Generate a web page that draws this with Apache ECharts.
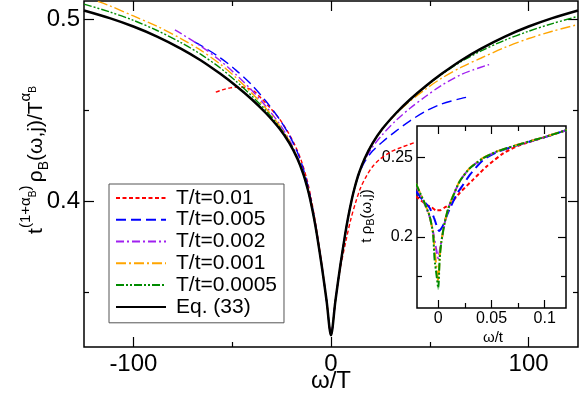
<!DOCTYPE html>
<html>
<head>
<meta charset="utf-8">
<script src="https://cdn.jsdelivr.net/npm/echarts@6/dist/echarts.min.js"></script>
<style>
  html, body { margin: 0; padding: 0; background: #fff; }
  #chart { width: 581px; height: 395px; }
</style>
</head>
<body>
<div id="chart"></div>
<script>
// main panel: x = omega/T, y = t^(1+aB) rho_B / T^aB
const mainEq = [[-125,0.5048],[-112,0.5006],[-100,0.496],[-88,0.4905],[-76,0.4839],[-66,0.4775],[-56,0.47],[-48,0.4633],[-40,0.4559],[-33,0.4485],[-26,0.4398],[-21,0.4318],[-17,0.4234],[-14,0.415],[-12,0.4076],[-10.6,0.4014],[-8.8,0.3919],[-7.2,0.3821],[-4.7,0.3646],[-2.2,0.3451],[0,0.3264],
  [2.2,0.3451],[4.7,0.3646],[7.2,0.3821],[8.8,0.3919],[10.6,0.4014],[12,0.4076],[14,0.415],[17,0.4234],[21,0.4318],[26,0.4398],[33,0.4485],[40,0.4559],[48,0.4633],[56,0.47],[66,0.4775],[76,0.4839],[88,0.4905],[100,0.496],[112,0.5006],[125,0.5048]];
const mainGreen = [[-125,0.5083],[-112,0.504],[-100,0.4994],[-88,0.4938],[-76,0.4872],[-66,0.4808],[-56,0.4732],[-48,0.4659],[-40,0.4578],[-33,0.4499],[-26,0.4407],[-21,0.4324],[-17,0.4237],[-14,0.4151],[-12,0.4076],[-10.6,0.4014],[-8.8,0.3919],[-7.2,0.3821],[-4.7,0.3646],[-2.2,0.3451],[0,0.3265],
  [2.2,0.3451],[4.7,0.3646],[7.2,0.3821],[8.8,0.3919],[10.6,0.4014],[12,0.4076],[14,0.415],[17,0.4234],[21,0.4318],[26,0.4398],[33,0.4485],[40,0.4559],[48,0.4632],[56,0.4697],[66,0.4768],[76,0.4826],[88,0.4885],[100,0.4934],[112,0.4976],[125,0.5016]];
const mainOrange = [[-118,0.5098],[-112,0.5074],[-100,0.5018],[-88,0.4961],[-76,0.4894],[-66,0.483],[-56,0.4753],[-48,0.4678],[-40,0.4594],[-33,0.4511],[-26,0.4415],[-21,0.4329],[-17,0.424],[-14,0.4153],[-12,0.4077],[-10.6,0.4014],[-8.8,0.3919],[-7.2,0.3821],[-4.7,0.3646],[-2.2,0.3451],[0,0.3265],
  [2.2,0.3451],[4.7,0.3646],[7.2,0.3821],[8.8,0.3919],[10.6,0.4014],[12,0.4076],[14,0.415],[17,0.4234],[21,0.4318],[26,0.4398],[33,0.4481],[40,0.455],[48,0.4617],[56,0.4676],[66,0.4737],[76,0.4787],[88,0.4845],[100,0.4894],[112,0.4934],[125,0.4971]];
const mainViolet = [[-79,0.4941],[-76,0.4922],[-66,0.4853],[-56,0.4772],[-48,0.4695],[-40,0.4609],[-33,0.4523],[-26,0.4424],[-21,0.4336],[-17,0.4245],[-14,0.4156],[-12,0.4079],[-10.6,0.4015],[-8.8,0.3919],[-7.2,0.3821],[-4.7,0.3646],[-2.2,0.3451],[0,0.3265],
  [2.2,0.3451],[4.7,0.3646],[7.2,0.3821],[8.8,0.3919],[10.6,0.4014],[12,0.4076],[14,0.415],[17,0.4226],[21,0.4298],[26,0.4366],[33,0.4445],[40,0.4511],[48,0.4577],[56,0.4637],[66,0.4697],[72,0.4722],[80,0.4751]];
const mainBlue = [[-69,0.4874],[-66,0.4857],[-56,0.4788],[-48,0.4719],[-40,0.4638],[-33,0.4551],[-26,0.445],[-21,0.4361],[-17,0.4269],[-14,0.4178],[-12,0.4098],[-10.6,0.4031],[-8.8,0.393],[-7.2,0.3827],[-4.7,0.3647],[-2.2,0.3451],[0,0.3265],
  [2.2,0.3451],[4.7,0.3646],[7.2,0.3821],[8.8,0.3919],[10.6,0.4014],[12,0.4076],[14,0.4145],[17,0.4216],[21,0.4276],[26,0.4326],[33,0.4387],[40,0.4442],[48,0.4495],[56,0.4535],[66,0.4565],[70.2,0.4575]];
const mainRed = [[-58.3,0.46],[-55,0.4612],[-51,0.4623],[-47,0.4628],[-43,0.4624],[-39,0.4605],[-35,0.4562],[-31,0.4516],[-26,0.4451],[-22,0.4384],[-18,0.4302],[-15,0.4222],[-12,0.4112],[-10,0.4012],[-7.5,0.3858],[-5,0.368],[-2.2,0.3455],[0,0.3268],
  [2.2,0.3447],[4.6,0.3625],[7.5,0.378],[10,0.39],[12.5,0.3995],[15,0.4075],[18,0.414],[21,0.419],[24.4,0.4228],[30,0.427],[36,0.4298],[43,0.4325]];

// inset: x = omega/t, y = t rho_B
const insetGreen = [[-0.021,0.2335],[-0.0129,0.2214],[-0.0082,0.2131],[-0.005,0.2027],[-0.0035,0.186],[-0.0015,0.175],[0,0.1673],[0.0013,0.186],[0.0028,0.1964],[0.006,0.2089],[0.0091,0.2173],[0.0138,0.2256],[0.0201,0.235],[0.0296,0.2433],[0.0421,0.2496],[0.0547,0.2538],[0.0736,0.2579],[0.1003,0.2631],[0.121,0.2675]];
const insetOrange = [[-0.021,0.2335],[-0.0129,0.2214],[-0.0082,0.2131],[-0.005,0.2027],[-0.0032,0.19],[-0.0012,0.178],[0,0.172],[0.0013,0.187],[0.0028,0.1968],[0.006,0.209],[0.0091,0.2175],[0.0138,0.2258],[0.0201,0.2352],[0.0296,0.2435],[0.0421,0.2498],[0.0547,0.2539],[0.0736,0.258],[0.1003,0.2632],[0.121,0.2675]];
const insetViolet = [[-0.021,0.2325],[-0.0129,0.2208],[-0.0082,0.2128],[-0.005,0.2035],[-0.0025,0.194],[0,0.1865],[0.0022,0.1945],[0.006,0.2085],[0.0091,0.2172],[0.0138,0.2256],[0.0201,0.235],[0.0296,0.2433],[0.0421,0.2496],[0.0547,0.2538],[0.0736,0.2579],[0.1003,0.2631],[0.121,0.2675]];
const insetBlue = [[-0.021,0.2288],[-0.015,0.2235],[-0.0082,0.2183],[-0.004,0.212],[0.0008,0.2037],[0.004,0.2065],[0.0075,0.2125],[0.0107,0.2175],[0.017,0.2265],[0.0233,0.2329],[0.03,0.2395],[0.0421,0.2485],[0.0547,0.2533],[0.0736,0.2577],[0.1003,0.263],[0.121,0.2675]];
const insetRed = [[-0.021,0.2255],[-0.0113,0.2204],[-0.006,0.2185],[-0.002,0.2167],[0.002,0.2168],[0.006,0.2185],[0.0107,0.2204],[0.0201,0.2277],[0.0327,0.2361],[0.0453,0.2444],[0.061,0.2527],[0.075,0.2575],[0.1003,0.263],[0.121,0.2675]];

const names = ["T/t=0.01", "T/t=0.005", "T/t=0.002", "T/t=0.001", "T/t=0.0005", "Eq. (33)"];
const mainTicksX = [-100, 0, 100], mainMinorX = [-50, 50];
const mainTicksY = [0.4, 0.5], mainMinorY = [0.35, 0.45];
const insetTicksX = [0, 0.05, 0.1], insetMinorX = [0.025, 0.075];
const insetTicksY = [0.2, 0.25], insetMinorY = [0.175, 0.225];

const FONT = "Liberation Sans, Arial, sans-serif";

// one labelled axis + ticks-only copies (minor, and mirrored on the opposite side)
function axisSet(dim, grid, min, max, majors, minors, label, majLen, minLen) {
	const sides = dim === "x" ? ["bottom", "top"] : ["left", "right"];
	const out = [];
	sides.forEach((pos, s) => {
		[[majors, majLen], [minors, minLen]].forEach(([vals, len], k) => {
			out.push({
				type: "value", gridIndex: grid, position: pos, min: min, max: max,
				axisLine: { show: false, onZero: false },
				splitLine: { show: false },
				axisTick: { show: true, inside: true, length: len, customValues: vals,
					lineStyle: { color: "#000", width: 1.2 } },
				axisLabel: s === 0 && k === 0
					? Object.assign({ customValues: vals, color: "#000", fontFamily: FONT }, label)
					: { show: false },
			});
		});
	});
	return out;
}

const styles = [
	{ color: "#ff0000", type: [4, 2.5] },
	{ color: "#0000ff", type: [10, 5] },
	{ color: "#a020f0", type: [8, 3, 2, 3] },
	{ color: "#ffa500", type: [10, 3, 2, 3] },
	{ color: "#008b00", type: [8, 2, 2, 2, 2, 2] },
];
const mainData = [mainRed, mainBlue, mainViolet, mainOrange, mainGreen];
const insetData = [insetRed, insetBlue, insetViolet, insetOrange, insetGreen];

const series = [];
mainData.forEach((d, i) => {
	series.push({ name: names[i], type: "line", data: d, xAxisIndex: 0, yAxisIndex: 0,
		symbol: "none", smooth: 0.3,
		itemStyle: { color: styles[i].color },
		lineStyle: { color: styles[i].color, type: styles[i].type, width: 1.4 } });
});
series.push({ name: names[5], type: "line", data: mainEq, xAxisIndex: 0, yAxisIndex: 0,
	symbol: "none", smooth: 0.3,
	itemStyle: { color: "#000" },
	lineStyle: { color: "#000", width: 2.5 } });
insetData.forEach((d, i) => {
	series.push({ name: names[i], type: "line", data: d, xAxisIndex: 4, yAxisIndex: 4,
		symbol: "none", smooth: 0.2,
		itemStyle: { color: styles[i].color },
		lineStyle: { color: styles[i].color, type: styles[i].type, width: 2 } });
});

const option = {
	animation: false,
	backgroundColor: "#fff",
	grid: [
		{ left: 84, top: 1, right: 3, bottom: 48, show: true, borderColor: "#000", borderWidth: 1.5, outerBoundsMode: "none" },
		{ left: 417, top: 126, width: 149, height: 182, show: true, backgroundColor: "#fff",
			borderColor: "#000", borderWidth: 1.5, outerBoundsMode: "none" },
	],
	xAxis: [
		...axisSet("x", 0, -125, 125, mainTicksX, mainMinorX, { fontSize: 24, margin: 5 }, 10, 5),
		...axisSet("x", 1, -0.02, 0.12, insetTicksX, insetMinorX, { fontSize: 16, margin: 3 }, 8, 5),
	],
	yAxis: [
		...axisSet("y", 0, 0.32, 0.51, mainTicksY, mainMinorY, { fontSize: 24, margin: 4 }, 10, 5),
		...axisSet("y", 1, 0.155, 0.27, insetTicksY, insetMinorY, { fontSize: 16, margin: 4 }, 8, 5),
	],
	legend: {
		orient: "vertical", left: 109, top: 184,
		data: names,
		itemWidth: 50, itemHeight: 14, itemGap: 0,
		padding: [3, 7, 5, 6],
		backgroundColor: "#fff", borderColor: "#555", borderWidth: 1,
		itemStyle: { color: "rgba(0,0,0,0)", borderWidth: 0, opacity: 0 },
		textStyle: { fontFamily: FONT, fontSize: 21, lineHeight: 21.8, color: "#000", padding: [0, 0, 0, 5] },
	},
	graphic: [
		{ type: "text", x: 331, y: 381,
			style: { text: "ω/T", font: "24px " + FONT, fill: "#000", align: "center", verticalAlign: "middle" } },
		{ type: "text", x: 36, y: 160, rotation: Math.PI / 2,
			style: {
				text: "{m|t}{sup|(1+α}{ss|B}{sup|)} {m|ρ}{sub|B}{m|(ω,j)/T}{sup|α}{ss|B}",
				align: "center", verticalAlign: "middle", fill: "#000",
				rich: {
					m: { fontSize: 21, fontFamily: FONT, lineHeight: 36 },
					sup: { fontSize: 15, fontFamily: FONT, verticalAlign: "top" },
					ss: { fontSize: 10, fontFamily: FONT, verticalAlign: "top", padding: [10, 0, 0, 0] },
					sub: { fontSize: 14, fontFamily: FONT, verticalAlign: "bottom", padding: [0, 0, 3, 0] },
				},
			} },
		{ type: "text", x: 493, y: 338,
			style: { text: "ω/t", font: "15px " + FONT, fill: "#000", align: "center", verticalAlign: "middle" } },
		{ type: "text", x: 367, y: 216, rotation: Math.PI / 2,
			style: {
				text: "{m|t ρ}{sub|B}{m|(ω,j)}",
				align: "center", verticalAlign: "middle", fill: "#000",
				rich: {
					m: { fontSize: 15, fontFamily: FONT, lineHeight: 22 },
					sub: { fontSize: 11, fontFamily: FONT, verticalAlign: "bottom", padding: [0, 0, 2, 0] },
				},
			} },
	],
	series: series,
};

const chart = echarts.init(document.getElementById("chart"), null, { renderer: "canvas" });
chart.setOption(option);
</script>
</body>
</html>
